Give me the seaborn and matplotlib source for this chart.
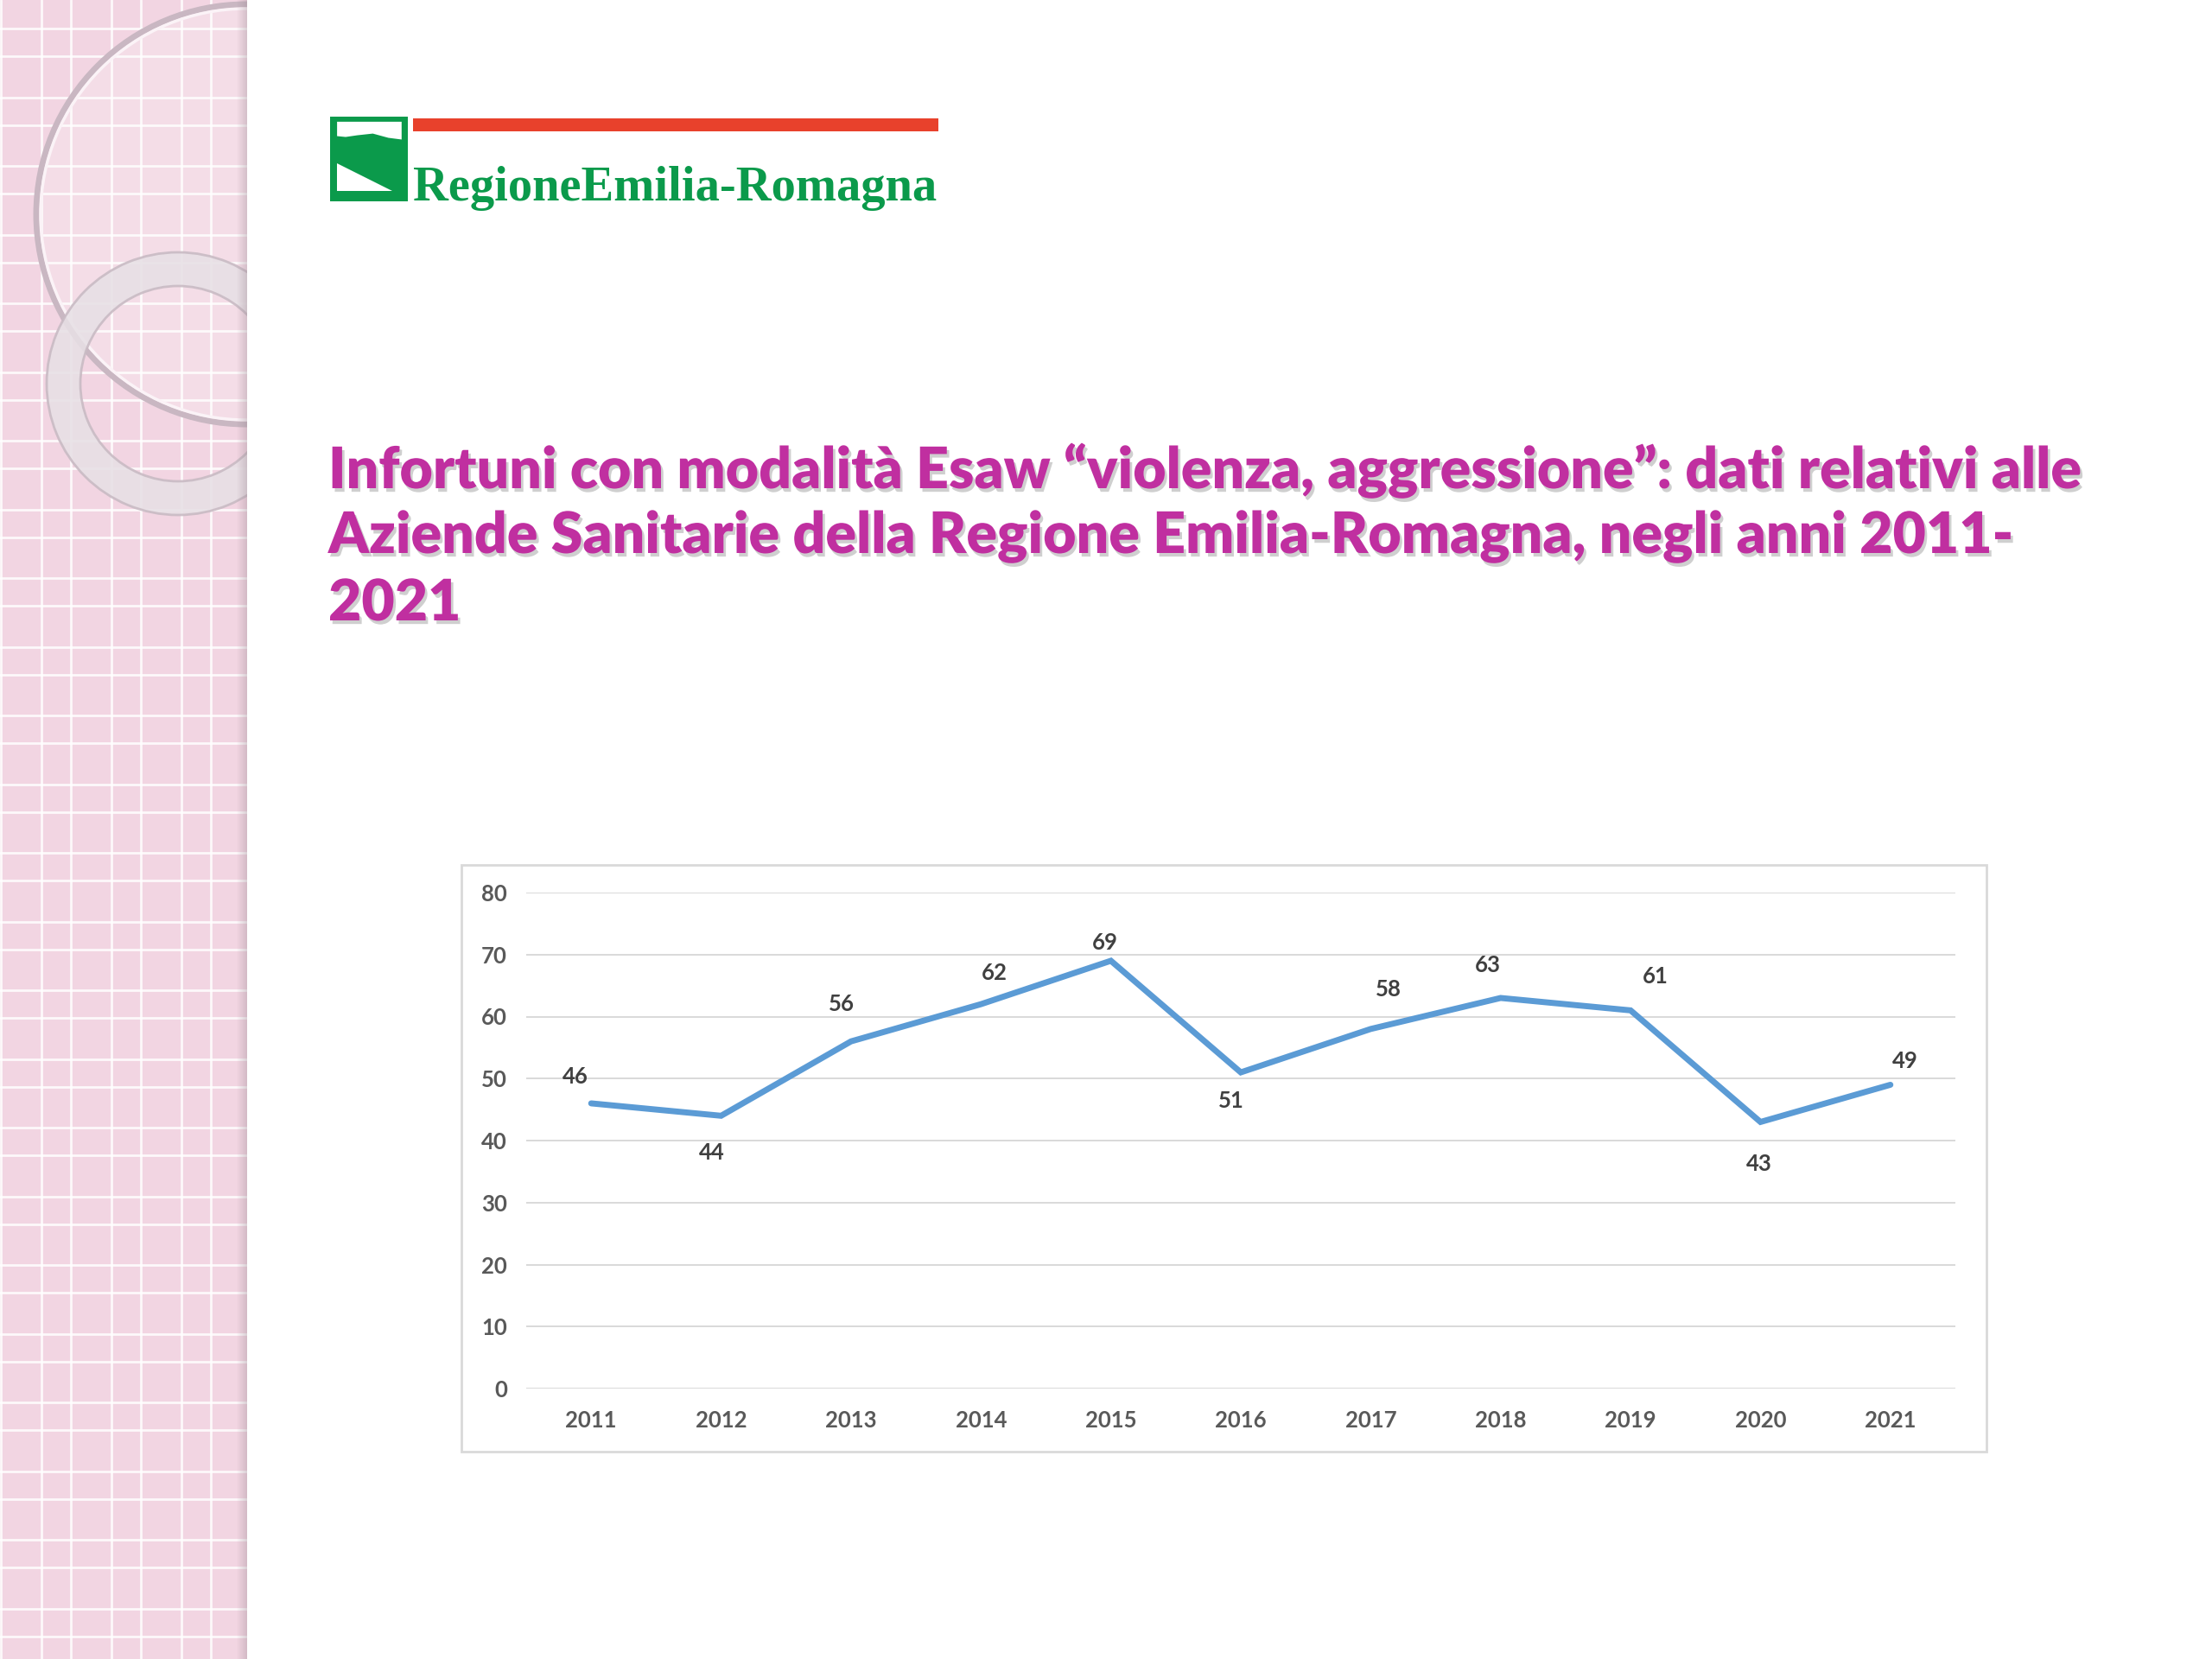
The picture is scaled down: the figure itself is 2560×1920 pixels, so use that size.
import numpy as np
import pandas as pd
import matplotlib
matplotlib.use("Agg")
import matplotlib.pyplot as plt
import seaborn as sns
from matplotlib.patches import Rectangle, Circle, Wedge, Polygon
import matplotlib.patheffects as pe

# ---------------- data ----------------
years = ["2011", "2012", "2013", "2014", "2015", "2016", "2017", "2018", "2019", "2020", "2021"]
values = [46, 44, 56, 62, 69, 51, 58, 63, 61, 43, 49]
y_ticks = [0, 10, 20, 30, 40, 50, 60, 70, 80]
title_lines = [
    "Infortuni con modalità Esaw \u201cviolenza, aggressione\u201d: dati relativi alle",
    "Aziende Sanitarie della Regione Emilia-Romagna, negli anni 2011-",
    "2021",
]
logo_text = "RegioneEmilia-Romagna"

# label offsets (points) – styling only
label_offsets = [(-13, 22), (-8, -31), (-8, 31), (11, 26), (-5, 15), (-8, -24),
                 (15, 33), (-11, 27), (21, 28), (-1, -35), (12, 20)]

sns.set_theme(style="white")
plt.rcParams["font.family"] = ["Lato", "DejaVu Sans"]

W, H = 2560, 1920
fig = plt.figure(figsize=(W / 100, H / 100), dpi=100)
fig.patch.set_facecolor("white")

# ---------------- background decoration (pixel coords) ----------------
bg = fig.add_axes([0, 0, 1, 1], zorder=0)
bg.set_xlim(0, W)
bg.set_ylim(H, 0)
bg.axis("off")

strip_w = 286
strip = Rectangle((0, 0), strip_w, H, fc="#F2D5E2", ec="none", zorder=1)
bg.add_patch(strip)
for bx in np.arange(-33, strip_w + 10, 81):
    for x in (bx, bx + 34):
        ln, = bg.plot([x, x], [0, H], color="white", lw=2.0, alpha=0.85, zorder=2)
        ln.set_clip_path(strip)
for by in np.arange(33, H + 10, 79.5):
    for y in (by, by + 32):
        ln, = bg.plot([0, strip_w], [y, y], color="white", lw=2.0, alpha=0.85, zorder=2)
        ln.set_clip_path(strip)

# big thin ring
disc = Circle((285, 248), 238, fc="white", ec="none", alpha=0.2, zorder=3)
bg.add_patch(disc)
disc.set_clip_path(strip)
big = Circle((285, 248), 243, fill=False, ec="#C9B7C2", lw=5, zorder=3)
bg.add_patch(big)
big.set_clip_path(strip)
big2 = Circle((285, 248), 238, fill=False, ec="#FBF3F7", lw=2.5, zorder=3)
bg.add_patch(big2)
big2.set_clip_path(strip)

# thick ring
ring = Wedge((206, 444), 152, 0, 360, width=39, fc="#E7E0E5", ec="#C8BAC3", lw=2, alpha=0.88, zorder=4)
bg.add_patch(ring)
ring.set_clip_path(strip)

# strip right-edge shadow
for i, a in enumerate(np.linspace(0.02, 0.35, 12)):
    r = Rectangle((strip_w - 12 + i, 0), 1.2, H, fc="#9C8A94", ec="none", alpha=a, zorder=5)
    bg.add_patch(r)

# ---------------- logo ----------------
green = "#0B9A4B"
bx0, by0, bw, bh = 382, 135, 90, 98
bg.add_patch(Rectangle((bx0, by0), bw, bh, fc=green, ec="none", zorder=6))
wave = [(bx0 + 0.09 * bw, by0 + 0.06 * bh), (bx0 + 0.92 * bw, by0 + 0.06 * bh),
        (bx0 + 0.92 * bw, by0 + 0.27 * bh), (bx0 + 0.75 * bw, by0 + 0.25 * bh),
        (bx0 + 0.55 * bw, by0 + 0.20 * bh), (bx0 + 0.35 * bw, by0 + 0.22 * bh),
        (bx0 + 0.2 * bw, by0 + 0.24 * bh), (bx0 + 0.09 * bw, by0 + 0.23 * bh)]
bg.add_patch(Polygon(wave, closed=True, fc="white", ec="none", zorder=7))
tri = [(bx0 + 0.09 * bw, by0 + 0.55 * bh), (bx0 + 0.09 * bw, by0 + 0.88 * bh),
       (bx0 + 0.80 * bw, by0 + 0.88 * bh)]
bg.add_patch(Polygon(tri, closed=True, fc="white", ec="none", zorder=7))
bg.add_patch(Rectangle((478, 137), 608, 15, fc="#E8412C", ec="none", zorder=6))

logo = fig.text(478 / W, 1 - 232 / H, logo_text, color=green, fontsize=40,
                family=["Liberation Serif", "DejaVu Serif"], fontweight="bold",
                ha="left", va="baseline", zorder=10)

# ---------------- title ----------------
title_color = "#C02FA0"
shadow = [pe.withSimplePatchShadow(offset=(2, -3), shadow_rgbFace="#777777", alpha=0.35)]
baselines = [565, 640, 718]
title_txts = []
for line, yb in zip(title_lines, baselines):
    t = fig.text(380 / W, 1 - yb / H, line, color=title_color, fontsize=40,
                 fontweight="heavy", ha="left", va="baseline", zorder=10, path_effects=shadow)
    title_txts.append(t)

# fit texts to reference widths
fig.canvas.draw()
rend = fig.canvas.get_renderer()
bbw = logo.get_window_extent(rend).width
logo.set_fontsize(logo.get_fontsize() * 606 / bbw)
bbw = title_txts[0].get_window_extent(rend).width
fs = title_txts[0].get_fontsize() * 2028 / bbw
for t in title_txts:
    t.set_fontsize(fs)

# ---------------- chart frame ----------------
bg.add_patch(Rectangle((534, 1001), 1765, 679, fc="white", ec="#D9D9D9", lw=2, zorder=6))

# ---------------- chart ----------------
df = pd.DataFrame({"year": years, "count": values})
ax = fig.add_axes([609 / W, 1 - 1607 / H, (2263 - 609) / W, (1607 - 1033) / H], zorder=3)
ax.patch.set_alpha(0)
sns.lineplot(data=df, x="year", y="count", ax=ax, color="#5B9BD5", lw=5.0, sort=False,
             solid_joinstyle="miter")
ax.set_xlim(-0.5, len(years) - 0.5)
ax.set_ylim(0, 80)
ax.set_yticks(y_ticks)
ax.yaxis.grid(True, color="#D9D9D9", lw=1.4)
ax.xaxis.grid(False)
ax.set_axisbelow(True)
for s in ax.spines.values():
    s.set_visible(False)
ax.set_xlabel("")
ax.set_ylabel("")
ax.tick_params(axis="y", length=0, pad=16, labelsize=18.5, labelcolor="#595959")
ax.tick_params(axis="x", length=0, pad=18, labelsize=18.5, labelcolor="#595959")
for lab in ax.get_xticklabels() + ax.get_yticklabels():
    lab.set_fontweight("bold")

for i, (v, off) in enumerate(zip(values, label_offsets)):
    ax.annotate(str(v), (i, v), xytext=off, textcoords="offset points",
                ha="center", va="center", fontsize=18.5, fontweight="bold", color="#404040")

fig.savefig("out.png", dpi=100, facecolor="white")
